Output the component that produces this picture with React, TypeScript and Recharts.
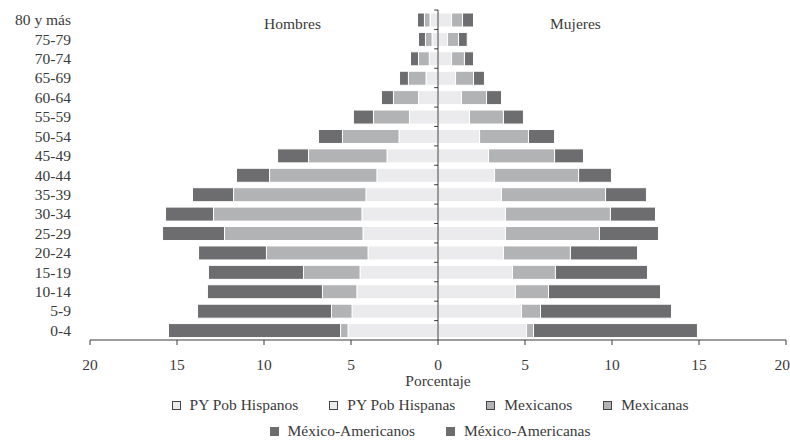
import { BarChart, Bar, XAxis, YAxis, ReferenceLine, ReferenceDot, Legend } from "recharts";

const ages = ["80 y más", "75-79", "70-74", "65-69", "60-64", "55-59", "50-54", "45-49", "40-44", "35-39", "30-34", "25-29", "20-24", "15-19", "10-14", "5-9", "0-4"];

// Hombres (porcentaje, se dibujan a la izquierda)
const pyHispanos = [0.46, 0.34, 0.5, 0.69, 1.12, 1.64, 2.24, 2.93, 3.51, 4.14, 4.37, 4.31, 4.02, 4.48, 4.66, 4.94, 5.17];
const mexicanos = [0.32, 0.38, 0.62, 1.01, 1.44, 2.07, 3.25, 4.51, 6.17, 7.61, 8.53, 7.96, 5.84, 3.25, 1.98, 1.18, 0.43];
const mexAmericanos = [0.4, 0.4, 0.46, 0.51, 0.69, 1.15, 1.38, 1.78, 1.9, 2.36, 2.76, 3.56, 3.9, 5.46, 6.61, 7.7, 9.89];

// Mujeres
const pyHispanas = [0.78, 0.55, 0.78, 1.01, 1.35, 1.81, 2.39, 2.9, 3.25, 3.65, 3.88, 3.88, 3.76, 4.28, 4.45, 4.8, 5.09];
const mexicanas = [0.63, 0.63, 0.74, 1.03, 1.44, 1.95, 2.81, 3.8, 4.83, 5.98, 6.03, 5.4, 3.85, 2.47, 1.9, 1.09, 0.4];
const mexAmericanas = [0.63, 0.5, 0.52, 0.63, 0.86, 1.15, 1.5, 1.66, 1.89, 2.35, 2.59, 3.39, 3.86, 5.29, 6.44, 7.53, 9.42];

const xTicks = [-20, -15, -10, -5, 0, 5, 10, 15, 20];

const LIGHT = "#ebebed";
const MID = "#b2b3b5";
const DARK = "#6d6d6f";
const INK = "#3a3a3a";
const FONT = "Liberation Serif, Times New Roman, serif";
const FS = 15.5;

const data = ages.map((age, i) => ({
  age,
  hisM: -pyHispanos[i],
  mexM: -mexicanos[i],
  maM: -mexAmericanos[i],
  hisF: pyHispanas[i],
  mexF: mexicanas[i],
  maF: mexAmericanas[i],
}));

const legendItems = [
  [
    { label: "PY Pob Hispanos", color: LIGHT, border: "#444" },
    { label: "PY Pob Hispanas", color: LIGHT, border: "#444" },
    { label: "Mexicanos", color: MID, border: "#444" },
    { label: "Mexicanas", color: MID, border: "#444" },
  ],
  [
    { label: "México-Americanos", color: DARK, border: DARK },
    { label: "México-Americanas", color: DARK, border: DARK },
  ],
];

function PyramidLegend() {
  return (
    <div style={{ height: 50, paddingLeft: 74, fontFamily: FONT, fontSize: FS, color: INK }}>
      {legendItems.map((row, r) => (
        <div key={r} style={{ display: "flex", justifyContent: "center", gap: 31, height: 26, alignItems: "center", marginTop: r === 0 ? 2 : 0 }}>
          {row.map((it) => (
            <div key={it.label} style={{ display: "flex", alignItems: "center", gap: 9 }}>
              <span style={{ width: 7, height: 7, background: it.color, border: `1px solid ${it.border}`, display: "inline-block" }} />
              <span>{it.label}</span>
            </div>
          ))}
        </div>
      ))}
    </div>
  );
}

export default function App() {
  const tick = { fill: INK, fontSize: FS, fontFamily: FONT };
  return (
    <div style={{ position: "absolute", left: 0, top: 0, width: 790, height: 442, fontFamily: FONT }}>
      <BarChart
        width={790}
        height={442}
        data={data}
        layout="vertical"
        stackOffset="sign"
        barSize={14}
        margin={{ top: 10, right: 4, bottom: 0, left: 0 }}
        style={{ fontFamily: FONT }}
      >
        <XAxis
          type="number"
          domain={[-20, 20]}
          ticks={xTicks}
          tickFormatter={(v) => String(Math.abs(v))}
          tick={tick}
          stroke={INK}
          tickSize={5}
          tickMargin={14}
          height={50}
          label={{ value: "Porcentaje", position: "insideBottom", offset: 4, fill: INK, fontSize: FS, fontFamily: FONT }}
        />
        <YAxis
          type="category"
          dataKey="age"
          width={90}
          axisLine={false}
          tickLine={false}
          tickMargin={13}
          tick={tick}
          interval={0}
        />
        <Legend verticalAlign="bottom" content={() => <PyramidLegend />} />
        <Bar dataKey="hisM" stackId="p" fill={LIGHT} stroke="#fff" strokeWidth={1} isAnimationActive={false} />
        <Bar dataKey="mexM" stackId="p" fill={MID} stroke="#fff" strokeWidth={1} isAnimationActive={false} />
        <Bar dataKey="maM" stackId="p" fill={DARK} stroke="#fff" strokeWidth={1} isAnimationActive={false} />
        <Bar dataKey="hisF" stackId="p" fill={LIGHT} stroke="#fff" strokeWidth={1} isAnimationActive={false} />
        <Bar dataKey="mexF" stackId="p" fill={MID} stroke="#fff" strokeWidth={1} isAnimationActive={false} />
        <Bar dataKey="maF" stackId="p" fill={DARK} stroke="#fff" strokeWidth={1} isAnimationActive={false} />
        <ReferenceLine x={0} stroke={INK} strokeWidth={1} />
        {ages.map((a) => (
          <ReferenceLine key={a} segment={[{ x: -0.22, y: a }, { x: 0, y: a }]} position="start" stroke={INK} />
        ))}
        <ReferenceDot x={-8.36} y={ages[0]} r={0} fill="none" stroke="none"
          label={{ value: "Hombres", position: "bottom", offset: -2, fill: INK, fontSize: FS, fontFamily: FONT }} />
        <ReferenceDot x={7.9} y={ages[0]} r={0} fill="none" stroke="none"
          label={{ value: "Mujeres", position: "bottom", offset: -2, fill: INK, fontSize: FS, fontFamily: FONT }} />
      </BarChart>
    </div>
  );
}
